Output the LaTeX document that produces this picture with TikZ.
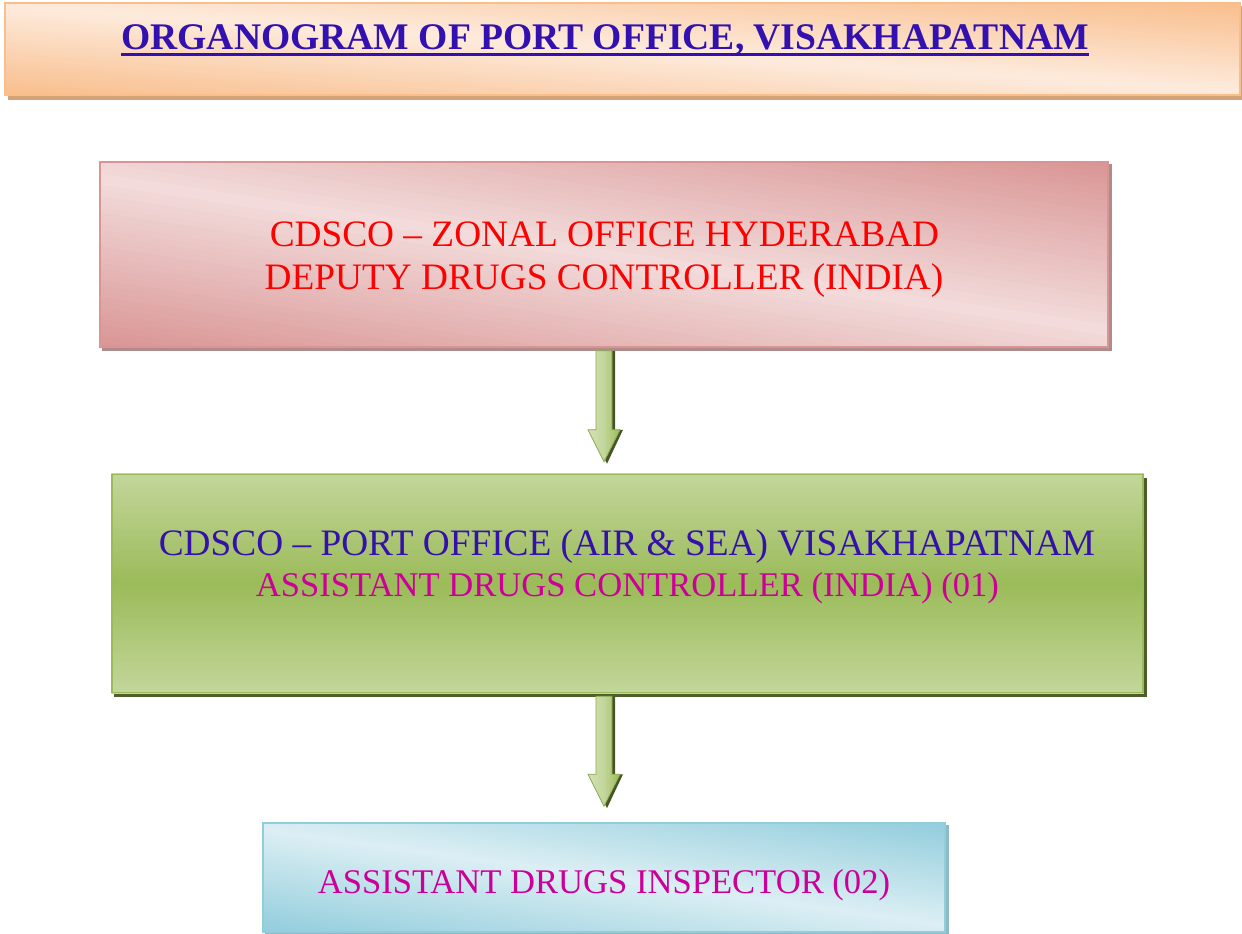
\documentclass[tikz,border=0pt]{standalone}
\usepackage{fontspec}
\setmainfont{Liberation Serif}
\usetikzlibrary{calc}
\pgfdeclarelayer{bg}
\pgfsetlayers{bg,main}
\definecolor{titleblue}{HTML}{3311B0}
\definecolor{lineblue}{HTML}{3311AA}
\definecolor{magentatxt}{HTML}{CC0099}
\definecolor{peachdark}{HTML}{F9BE8C}
\definecolor{peachlight}{HTML}{FDEBDD}
\definecolor{pinkdark}{HTML}{D99594}
\definecolor{pinklight}{HTML}{F2DCDB}
\definecolor{greendark}{HTML}{9BBB59}
\definecolor{greenlight}{HTML}{C3D69B}
\definecolor{bluedark}{HTML}{92CDDC}
\definecolor{bluelight}{HTML}{DCEFF4}
% #1 centre, #2 angle, #3 half extent, #4 half length, #5 top, #6 middle, #7 bottom colour
\newcommand{\gradfill}[7]{%
  \begin{scope}[shift={(#1)}, rotate=#2]
    \foreach \gfi in {0,...,59}{%
      \pgfmathsetmacro{\gfA}{-#3+#3*(\gfi/30)}%
      \pgfmathsetmacro{\gfB}{-#3+#3*((\gfi+1)/30)+0.6}%
      \pgfmathsetmacro{\gfT}{(\gfi+0.5)/60}%
      \ifdim\gfT pt<0.5pt
        \pgfmathtruncatemacro{\gfP}{round(200*\gfT)}%
        \fill[color=#6!\gfP!#7] (-#4pt,\gfA pt) rectangle (#4pt,\gfB pt);
      \else
        \pgfmathtruncatemacro{\gfP}{round(200*(\gfT-0.5))}%
        \fill[color=#5!\gfP!#6] (-#4pt,\gfA pt) rectangle (#4pt,\gfB pt);
      \fi
    }%
  \end{scope}}
\tikzset{
  boxbase/.style={inner sep=0pt, line width=1.5pt},
  bigtxt/.style={inner sep=0pt, anchor=base, font=\fontsize{37.3}{43}\selectfont},
  smalltxt/.style={inner sep=0pt, anchor=base, font=\fontsize{34.6}{40}\selectfont, text=magentatxt},
  arrowline/.style={draw=greendark!90!black, line width=0.8pt},
  arrowshade/.style={fill=black!55!greendark},
}
\begin{document}
\begin{tikzpicture}[x=1pt,y=-1pt]
\useasboundingbox (0,0) rectangle (1242,934);
% boxes
\node[boxbase, draw=peachdark, minimum width=1235pt, minimum height=92pt] (bar) at (622.5,49) {};
\node[boxbase, draw=pinkdark, minimum width=1008pt, minimum height=185pt] (zonal) at (604,254.5) {};
\node[boxbase, draw=greendark, minimum width=1031pt, minimum height=218pt] (port) at (627.5,583.5) {};
\node[boxbase, draw=bluedark, minimum width=682pt, minimum height=109pt] (adi) at (604,877.5) {};
% texts
\node[bigtxt, text=titleblue, font=\fontsize{37.6}{43}\selectfont\bfseries] (title) at (605,50) {ORGANOGRAM OF PORT OFFICE, VISAKHAPATNAM};
\draw[titleblue, line width=3pt] ($(title.base west)+(0,5)$) -- ($(title.base east)+(0,5)$);
\node[bigtxt, text=red] (z1) at (604.5,246) {CDSCO -- ZONAL OFFICE HYDERABAD};
\node[bigtxt, text=red] (z2) at (604,289) {DEPUTY DRUGS CONTROLLER (INDIA)};
\node[bigtxt, text=lineblue] (p1) at (627,555) {CDSCO -- PORT OFFICE (AIR \& SEA) VISAKHAPATNAM};
\node[smalltxt] (p2) at (627.5,596) {ASSISTANT DRUGS CONTROLLER (INDIA) (01)};
\node[smalltxt] (d1) at (604,893) {ASSISTANT DRUGS INSPECTOR (02)};
% backgrounds
\begin{pgfonlayer}{bg}
  \fill[color=peachdark!70!brown!80!gray] ($(bar.north west)+(4,4)$) rectangle ($(bar.south east)+(4,4)$);
  \fill[color=pinkdark!55!gray] ($(zonal.north west)+(3,3)$) rectangle ($(zonal.south east)+(3,3)$);
  \fill[color=black!50!greendark] ($(port.north west)+(3,4)$) rectangle ($(port.south east)+(3,4)$);
  \fill[color=bluedark!75!gray] ($(adi.north west)+(3,3)$) rectangle ($(adi.south east)+(3,3)$);
  \begin{scope}
    \clip (bar.north west) rectangle (bar.south east);
    \gradfill{bar.center}{-4}{89}{700}{peachdark}{peachlight}{peachdark}
  \end{scope}
  \begin{scope}
    \clip (zonal.north west) rectangle (zonal.south east);
    \gradfill{zonal.center}{-8.5}{166}{620}{pinkdark}{pinklight}{pinkdark}
  \end{scope}
  \begin{scope}
    \clip (port.north west) rectangle (port.south east);
    \gradfill{port.center}{0}{110}{620}{greenlight}{greendark}{greenlight}
  \end{scope}
  \begin{scope}
    \clip (adi.north west) rectangle (adi.south east);
    \gradfill{adi.center}{-8}{102}{450}{bluedark}{bluelight}{bluedark}
  \end{scope}
\end{pgfonlayer}
% arrows
\coordinate (a1) at ($(zonal.south)+(0,3)$);
\coordinate (a1e) at ($(port.north -| a1)+(0,-12)$);
\coordinate (a2) at ($(port.south -| a1)+(0,3)$);
\coordinate (a2e) at ($(adi.north)+(0,-16)$);
\foreach \s/\e in {a1/a1e, a2/a2e}{
  \fill[arrowshade] ($(\s)+(-5,0)$) -- ($(\s)+(11,0)$) -- ($(\e)+(11,-32)$) -- ($(\e)+(19,-32)$) -- ($(\e)+(3,2)$) -- ($(\e)+(-13,-32)$) -- ($(\e)+(-5,-32)$) -- cycle;
  \coordinate (amid) at ($(\s)!0.5!(\e)$);
  \begin{scope}
    \clip ($(\s)+(-8,0)$) -- ($(\s)+(8,0)$) -- ($(\e)+(8,-32)$) -- ($(\e)+(16,-32)$) -- (\e) -- ($(\e)+(-16,-32)$) -- ($(\e)+(-8,-32)$) -- cycle;
    \gradfill{amid}{90}{17}{70}{greenlight!70!white}{greenlight}{greendark}
  \end{scope}
  \draw[arrowline] ($(\s)+(-8,0)$) -- ($(\s)+(8,0)$) -- ($(\e)+(8,-32)$) -- ($(\e)+(16,-32)$) -- (\e) -- ($(\e)+(-16,-32)$) -- ($(\e)+(-8,-32)$) -- cycle;
}
\end{tikzpicture}
\end{document}
